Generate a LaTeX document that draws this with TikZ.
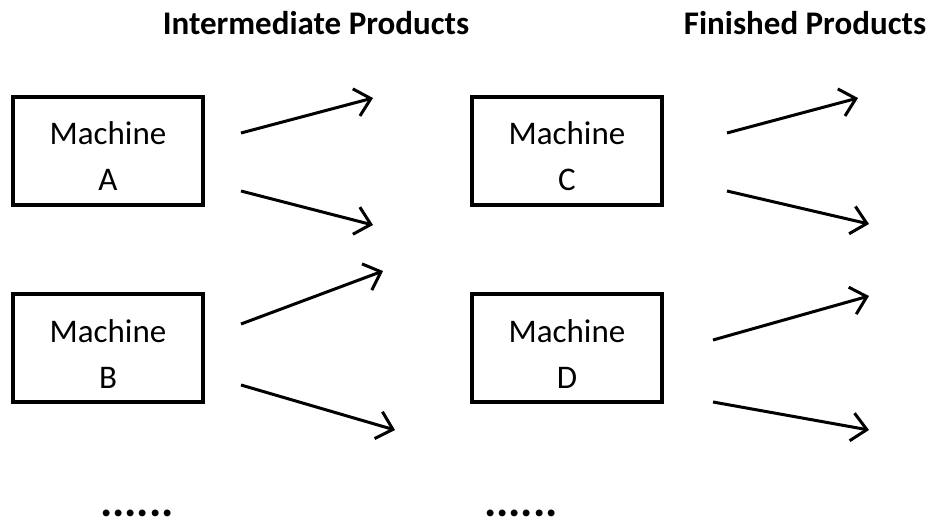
\documentclass[tikz,border=0pt]{standalone}
\usepackage{fontspec}
\setmainfont{Carlito}
\usetikzlibrary{arrows.meta}
\newcommand{\topstrut}{\rule{0pt}{34pt}}
\begin{document}
\begin{tikzpicture}[x=1pt,y=-1pt,
  machine/.style={draw,line width=3.5pt,minimum width=190pt,minimum height=108pt,inner sep=0pt,align=center,font=\fontsize{33}{46}\selectfont},
  flow/.style={line width=3pt,-{Straight Barb[length=15pt,width=28pt,line width=3pt]}},
  title/.style={font=\fontsize{33}{38}\selectfont\bfseries,anchor=base},
  dots/.style={font=\fontsize{46}{50}\selectfont\bfseries,anchor=base,inner sep=0pt}]
\useasboundingbox (0,0) rectangle (931,521);
\node[machine] (A) at (108,151) {\topstrut Machine\\A};
\node[machine] (B) at (108,348) {\topstrut Machine\\B};
\node[machine] (C) at (567,151) {\topstrut Machine\\C};
\node[machine] (D) at (567,348) {\topstrut Machine\\D};
\node[title] (t1) at (316,35) {Intermediate Products};
\node[title] (t2) at (805,35) {Finished Products};
\coordinate (a1s) at (241,133); \coordinate (a1e) at (373,98);
\coordinate (a2s) at (241,191); \coordinate (a2e) at (373,225);
\coordinate (b1s) at (241,324); \coordinate (b1e) at (383,271);
\coordinate (b2s) at (241,385); \coordinate (b2e) at (395,430);
\coordinate (c1s) at (727,133); \coordinate (c1e) at (858,98);
\coordinate (c2s) at (727,191); \coordinate (c2e) at (869,224);
\coordinate (d1s) at (713,340); \coordinate (d1e) at (869,296);
\coordinate (d2s) at (713,402); \coordinate (d2e) at (869,430);
\draw[flow] (a1s) -- (a1e);
\draw[flow] (a2s) -- (a2e);
\draw[flow] (b1s) -- (b1e);
\draw[flow] (b2s) -- (b2e);
\draw[flow] (c1s) -- (c1e);
\draw[flow] (c2s) -- (c2e);
\draw[flow] (d1s) -- (d1e);
\draw[flow] (d2s) -- (d2e);
\node[dots] (dots1) at (137,516) {......};
\node[dots] (dots2) at (521,516) {......};
\end{tikzpicture}
\end{document}
